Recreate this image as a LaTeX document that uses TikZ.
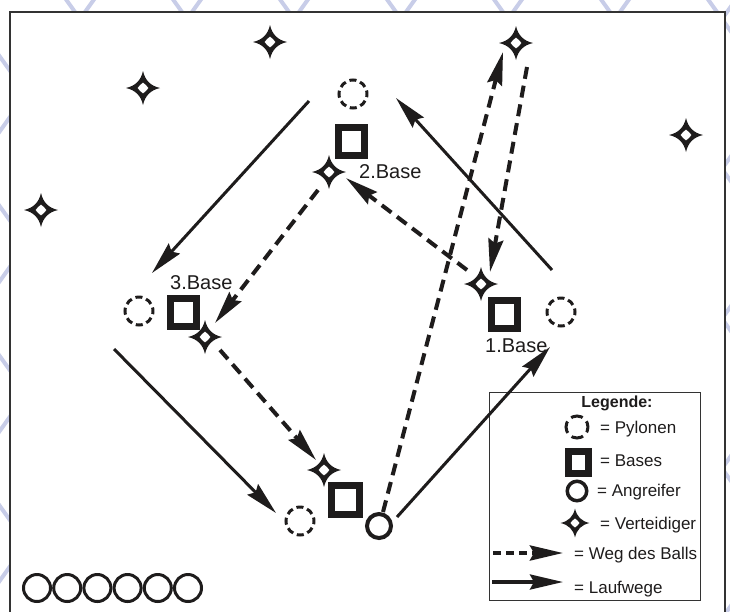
\documentclass[tikz,border=0pt]{standalone}
\usepackage{fontspec}
\setmainfont{Liberation Sans}
\usetikzlibrary{arrows.meta}
\definecolor{latt}{RGB}{200,205,232}
\definecolor{ink}{RGB}{30,28,28}
\newcommand\defstar[3]{%
  \node[defspot] (#1) at (#2) {};
  \fill[ink, even odd rule, shift={(#2)}, scale=#3]
    (17,0) .. controls (7.5,2.2) and (2.2,7.5) .. (0,17)
    .. controls (-2.2,7.5) and (-7.5,2.2) .. (-17,0)
    .. controls (-7.5,-2.2) and (-2.2,-7.5) .. (0,-17)
    .. controls (2.2,-7.5) and (7.5,-2.2) .. (17,0) -- cycle
    (5.5,0) .. controls (4,2.3) and (2.3,4) .. (0,5.5) .. controls (-2.3,4) and (-4,2.3) .. (-5.5,0)
    .. controls (-4,-2.3) and (-2.3,-4) .. (0,-5.5) .. controls (2.3,-4) and (4,-2.3) .. (5.5,0) -- cycle;
}
\begin{document}
\begin{tikzpicture}[x=1pt,y=-1pt,
  pylon/.style={circle, draw=ink, line width=3pt, minimum size=28pt, inner sep=0pt, dash pattern=on 7pt off 4pt, dash phase=3.5pt},
  basebox/.style={rectangle, draw=ink, line width=7pt, minimum width=26pt, minimum height=28pt, inner sep=0pt},
  attacker/.style={circle, draw=ink, line width=4pt, minimum size=24pt, inner sep=0pt},
  defspot/.style={inner sep=0pt, minimum size=34pt},
  waiting/.style={circle, draw=ink, line width=3pt, minimum size=27pt, inner sep=0pt},
  runarrow/.style={draw=ink, line width=3pt, -{Stealth[length=33pt, width=15pt, inset=4pt]}},
  ballarrow/.style={draw=ink, line width=4pt, dash pattern=on 12pt off 7pt, -{Stealth[length=33pt, width=15pt, inset=4pt]}},
  lbl/.style={inner sep=0pt, anchor=base west, text=ink, font=\fontsize{20pt}{24pt}\selectfont},
  legtext/.style={inner sep=0pt, anchor=base west, text=ink, font=\fontsize{17pt}{20pt}\selectfont}
]
\useasboundingbox (0,0) rectangle (730,611);
\clip (0,0) rectangle (730,611);
% background lattice
\foreach \n in {-6,...,11} {
  \draw[latt, line width=4pt] ({80+107*\n-42.86},-41) -- ({80+107*\n+457.14},659);
  \draw[latt, line width=4pt] ({80+107*\n+42.86},-41) -- ({80+107*\n-457.14},659);
}
% frame
\draw[draw=black!80, line width=1.3pt, fill=white] (10,12) rectangle (725,640);

% pylons
\node[pylon] (pT) at (353,94) {};
\node[pylon] (pL) at (139,311) {};
\node[pylon] (pR) at (561,312) {};
\node[pylon] (pH) at (300,521) {};
% bases
\node[basebox] (b2) at (351,141) {};
\node[basebox] (b3) at (183,312) {};
\node[basebox] (b1) at (504,314) {};
\node[basebox, minimum width=28pt, minimum height=29pt] (bH) at (345,500) {};
% attacker
\node[attacker] (att) at (379,526) {};
% defenders
\defstar{d1}{270,42}{1}
\defstar{d2}{143,88}{1}
\defstar{d3}{516,43}{1}
\defstar{d4}{686,135}{1}
\defstar{d5}{41,210}{1}
\defstar{dB2}{329,172}{1}
\defstar{dB1}{481,284}{1}
\defstar{dB3}{205,337}{1}
\defstar{dH}{324,470}{1}
% labels
\node[lbl] (l2) at (359,178) {2.Base};
\node[lbl] (l3) at (170,289) {3.Base};
\node[lbl] (l1) at (485,352) {1.Base};
% waiting players
\foreach \i in {0,...,5} {
  \node[waiting] (w\i) at ({37+30.2*\i},588) {};
}

% legend
\node[draw=black!80, line width=1pt, fill=white, minimum width=211pt, minimum height=208pt, inner sep=0pt] (legend) at (594.5,496) {};
\node[inner sep=0pt, anchor=base, text=ink, font=\fontsize{16pt}{19pt}\selectfont\bfseries] (legtitle) at (617,407) {Legende:};
\node[pylon, minimum size=22pt, dash pattern=on 12pt off 5.3pt, dash phase=6pt] (lp) at (577,427) {};
\node[legtext] (lpt) at (600,433) {= Pylonen};
\node[basebox, minimum width=20pt, minimum height=22pt] (lb) at (578,462) {};
\node[legtext] (lbt) at (600,466) {= Bases};
\node[attacker, line width=3.5pt, minimum size=19.5pt] (la) at (577,491) {};
\node[legtext] (lat) at (597,496) {= Angreifer};
\defstar{ld}{575,523}{0.85}
\node[legtext] (ldt) at (600,529) {= Verteidiger};
\coordinate (lbs) at (493,553);
\coordinate (lbe) at (563,553);
\draw[ballarrow, dash pattern=on 8pt off 5pt] (lbs) -- (lbe);
\node[legtext] (lbat) at (574,559) {= Weg des Balls};
\coordinate (lrs) at (492,582);
\coordinate (lre) at (563,582);
\draw[runarrow, line width=3.5pt] (lrs) -- (lre);
\node[legtext] (lrt) at (574,593) {= Laufwege};

% running paths
\coordinate (r1s) at (397,517); \coordinate (r1e) at (550,347);
\coordinate (r2s) at (552,270); \coordinate (r2e) at (396,98);
\coordinate (r3s) at (309,101); \coordinate (r3e) at (152,273);
\coordinate (r4s) at (114,349); \coordinate (r4e) at (276,513);
\draw[runarrow] (r1s) -- (r1e);
\draw[runarrow] (r2s) -- (r2e);
\draw[runarrow] (r3s) -- (r3e);
\draw[runarrow] (r4s) -- (r4e);

% ball paths
\coordinate (ba1s) at (383,512); \coordinate (ba1e) at (503,52);
\coordinate (ba2s) at (527,67);  \coordinate (ba2e) at (490,272);
\coordinate (ba3s) at (467,270); \coordinate (ba3e) at (346,178);
\coordinate (ba4s) at (318,190); \coordinate (ba4e) at (215,323);
\coordinate (ba5s) at (220,350); \coordinate (ba5e) at (316,460);
\draw[ballarrow] (ba1s) -- (ba1e);
\draw[ballarrow] (ba2s) -- (ba2e);
\draw[ballarrow] (ba3s) -- (ba3e);
\draw[ballarrow] (ba4s) -- (ba4e);
\draw[ballarrow] (ba5s) -- (ba5e);
\end{tikzpicture}
\end{document}
